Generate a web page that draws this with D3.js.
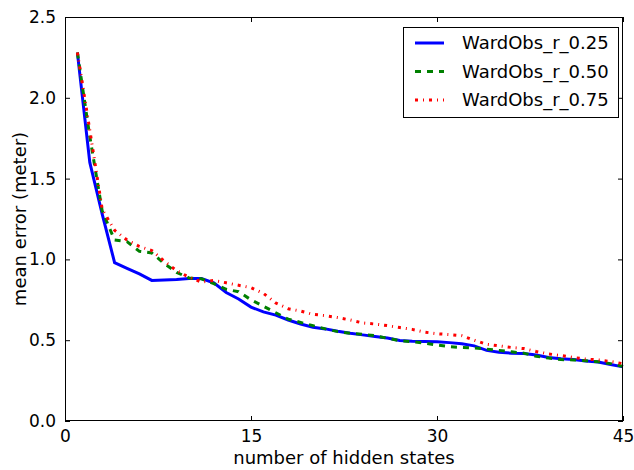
<!DOCTYPE html>
<html><head><meta charset="utf-8">
<script src="https://cdn.jsdelivr.net/npm/d3@7"></script>
<style>body{margin:0;background:#fff}svg{display:block}text{font-family:"DejaVu Sans",sans-serif;fill:#000}</style>
</head><body>
<svg id="c" width="634" height="470"></svg>
<script>
const states = d3.range(1, 46);
const r025 = [2.28,1.60,1.28,0.98,0.945,0.91,0.87,0.873,0.876,0.882,0.882,0.855,0.795,0.755,0.705,0.675,0.655,0.625,0.60,0.58,
  0.57,0.555,0.543,0.533,0.523,0.513,0.498,0.493,0.492,0.49,0.485,0.478,0.465,0.437,0.425,0.42,0.418,0.408,0.393,0.385,
  0.38,0.372,0.365,0.35,0.335];
const r050 = [2.28,1.76,1.30,1.12,1.11,1.05,1.04,0.975,0.92,0.885,0.88,0.85,0.815,0.80,0.75,0.71,0.67,0.63,0.61,0.59,
  0.57,0.553,0.543,0.536,0.528,0.512,0.497,0.491,0.482,0.47,0.46,0.455,0.452,0.445,0.437,0.428,0.42,0.40,0.39,0.38,
  0.378,0.373,0.366,0.355,0.338];
const r075 = [2.28,1.80,1.31,1.18,1.12,1.08,1.055,0.99,0.93,0.89,0.86,0.87,0.855,0.84,0.825,0.79,0.73,0.695,0.68,0.66,
  0.652,0.64,0.625,0.607,0.60,0.59,0.578,0.567,0.55,0.54,0.535,0.528,0.50,0.475,0.465,0.455,0.448,0.43,0.415,0.405,
  0.393,0.383,0.378,0.368,0.355];
const seriesNames = ["WardObs_r_0.25","WardObs_r_0.50","WardObs_r_0.75"];
const xTicks = [0,15,30,45];
const yTicks = [0,0.5,1.0,1.5,2.0,2.5];

const W=634,H=470, m={l:65,r:11,t:17,b:49};
const svg=d3.select("#c");
const x=d3.scaleLinear().domain([0,45]).range([m.l,W-m.r]);
const y=d3.scaleLinear().domain([0,2.5]).range([H-m.b,m.t]);
const styles=[
  {color:"#0000ff",dash:null},
  {color:"#008000",dash:"6,6"},
  {color:"#ff0000",dash:"3,5,1,5"}
];
const data=[r025,r050,r075];
const g=svg.append("g");
const line=d3.line().x((d,i)=>x(states[i])).y(d=>y(d));
data.forEach((s,k)=>{
  g.append("path").datum(s).attr("d",line).attr("fill","none")
   .attr("stroke",styles[k].color).attr("stroke-width",3)
   .attr("stroke-dasharray",styles[k].dash);
});
// frame
svg.append("rect").attr("x",m.l+0.5).attr("y",m.t+0.5).attr("width",W-m.l-m.r-1).attr("height",H-m.t-m.b-1)
  .attr("fill","none").attr("stroke","#000").attr("stroke-width",1);
const fs=17;
// axes (ticks inward)
const ax=svg.append("g").attr("transform",`translate(0,${H-m.b})`)
  .call(d3.axisBottom(x).tickValues(xTicks).tickSizeInner(-5).tickSizeOuter(0).tickPadding(9).tickFormat(d3.format("d")));
const ay=svg.append("g").attr("transform",`translate(${m.l},0)`)
  .call(d3.axisLeft(y).tickValues(yTicks).tickSizeInner(-5).tickSizeOuter(0).tickPadding(9).tickFormat(d3.format(".1f")));
const axt=svg.append("g").attr("transform",`translate(0,${m.t})`)
  .call(d3.axisTop(x).tickValues(xTicks).tickSizeInner(-5).tickSizeOuter(0).tickFormat(""));
const ayr=svg.append("g").attr("transform",`translate(${W-m.r},0)`)
  .call(d3.axisRight(y).tickValues(yTicks).tickSizeInner(-5).tickSizeOuter(0).tickFormat(""));
[ax,ay,axt,ayr].forEach(a=>{a.select(".domain").remove();a.selectAll("line").attr("stroke","#000");
  a.selectAll("text").attr("font-family","DejaVu Sans").attr("font-size",fs).attr("fill","#000");});
svg.append("text").attr("x",(m.l+W-m.r)/2).attr("y",464).attr("text-anchor","middle").attr("font-size",fs+1).text("number of hidden states");
svg.append("text").attr("transform",`translate(26,${(m.t+H-m.b)/2}) rotate(-90)`).attr("text-anchor","middle").attr("font-size",fs+1).text("mean error (meter)");
// legend
const lg=svg.append("g");
lg.append("rect").attr("x",403.5).attr("y",27.5).attr("width",215).attr("height",90).attr("fill","#fff").attr("stroke","#000");
seriesNames.forEach((n,k)=>{
  const yy=43+k*28.5;
  lg.append("line").attr("x1",415).attr("x2",444).attr("y1",yy).attr("y2",yy)
    .attr("stroke",styles[k].color).attr("stroke-width",3).attr("stroke-dasharray",styles[k].dash);
  lg.append("text").attr("x",462).attr("y",yy).attr("dy","0.36em").attr("font-size",fs+1).text(n);
});
</script>
</body></html>
